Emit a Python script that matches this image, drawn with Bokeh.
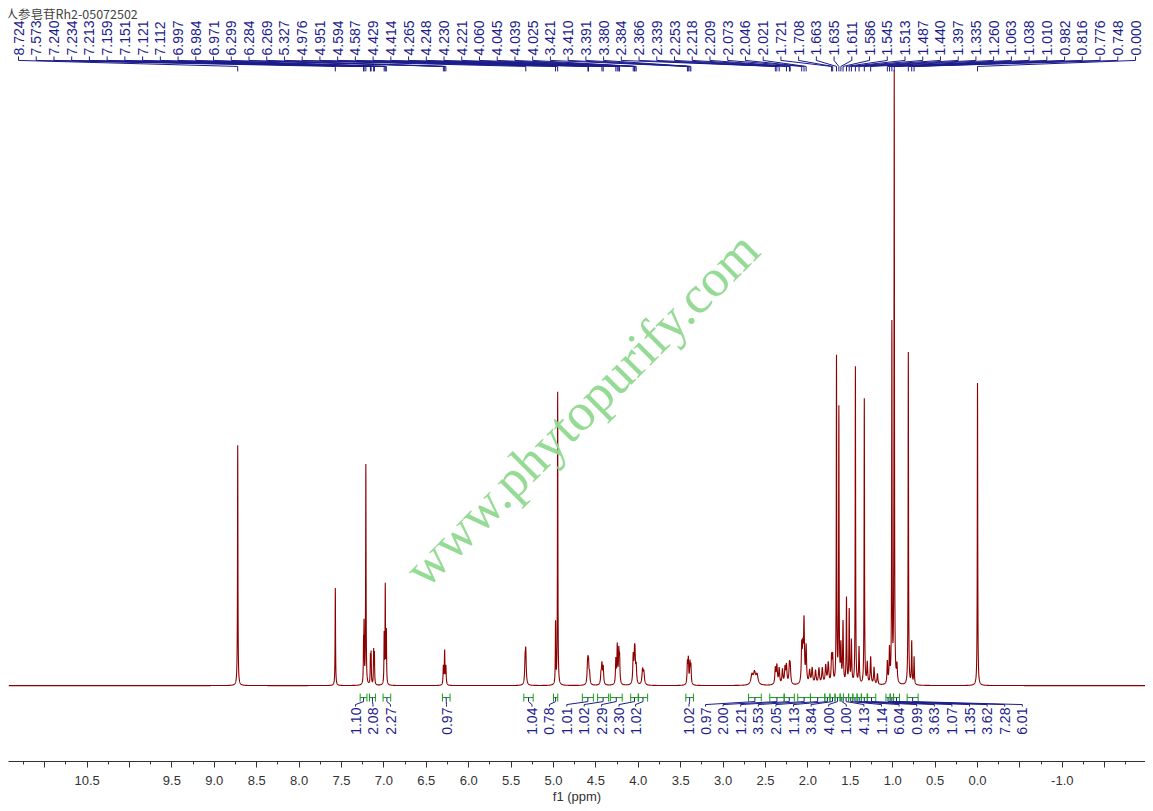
import numpy as np
from bokeh.plotting import figure
from bokeh.models import Range1d, FixedTicker, CustomJSTickFormatter
from bokeh.embed import file_html
from bokeh.resources import INLINE
from bokeh.core.properties import value

# ---------------- data ----------------
peak_ppm = [8.724, 7.573, 7.240, 7.234, 7.213, 7.159, 7.151, 7.121, 7.112,
            6.997, 6.984, 6.971, 6.299, 6.284, 6.269, 5.335, 5.327,
            4.976, 4.951, 4.600, 4.594, 4.587, 4.575, 4.440, 4.429, 4.414,
            4.265, 4.248, 4.230, 4.221, 4.060, 4.045, 4.039, 4.025, 3.950, 3.935,
            3.421, 3.410, 3.391, 3.380,
            2.660, 2.630, 2.600,
            2.384, 2.366, 2.339, 2.300, 2.270, 2.253, 2.218, 2.209,
            2.073, 2.060, 2.046, 2.021,
            1.980, 1.950, 1.910, 1.870, 1.830, 1.790, 1.760, 1.721, 1.708,
            1.663, 1.635, 1.611, 1.586, 1.545, 1.513, 1.487, 1.440, 1.397, 1.335,
            1.300, 1.260, 1.220, 1.180, 1.063, 1.038, 1.010, 0.982, 0.950,
            0.816, 0.776, 0.748, 0.000]
peak_int = [0.394, 0.160, 0.060, 0.090, 0.360, 0.045, 0.050, 0.055, 0.050,
            0.080, 0.160, 0.085, 0.030, 0.055, 0.030, 0.035, 0.050,
            0.100, 0.480, 0.020, 0.026, 0.028, 0.016, 0.016, 0.032, 0.028,
            0.040, 0.062, 0.050, 0.040, 0.045, 0.040, 0.036, 0.028, 0.024, 0.020,
            0.034, 0.040, 0.034, 0.030,
            0.016, 0.019, 0.016,
            0.026, 0.030, 0.026, 0.024, 0.026, 0.030, 0.028, 0.026,
            0.060, 0.050, 0.100, 0.060,
            0.022, 0.026, 0.022, 0.026, 0.026, 0.030, 0.034, 0.042, 0.042,
            0.534, 0.448, 0.060, 0.100, 0.140, 0.120, 0.070, 0.520, 0.060, 0.468,
            0.035, 0.045, 0.028, 0.018, 0.036, 0.055, 0.585, 1.000, 0.028,
            0.545, 0.070, 0.045, 0.496]
peak_hw = [0.003, 0.003, 0.003, 0.003, 0.003, 0.003, 0.003, 0.003, 0.003,
           0.003, 0.003, 0.003, 0.004, 0.004, 0.004, 0.006, 0.006,
           0.003, 0.003, 0.006, 0.006, 0.006, 0.006, 0.006, 0.006, 0.006,
           0.005, 0.005, 0.005, 0.005, 0.006, 0.006, 0.006, 0.006, 0.008, 0.008,
           0.005, 0.005, 0.005, 0.005,
           0.014, 0.014, 0.014,
           0.007, 0.007, 0.007, 0.007, 0.007, 0.007, 0.007, 0.007,
           0.006, 0.006, 0.006, 0.006,
           0.008, 0.008, 0.008, 0.008, 0.008, 0.008, 0.008, 0.006, 0.006,
           0.003, 0.003, 0.005, 0.005, 0.004, 0.004, 0.005, 0.003, 0.005, 0.003,
           0.006, 0.006, 0.006, 0.006, 0.005, 0.005, 0.003, 0.003, 0.006,
           0.003, 0.004, 0.004, 0.003]

shift_labels = ["8.724", "7.573", "7.240", "7.234", "7.213", "7.159", "7.151", "7.121",
                "7.112", "6.997", "6.984", "6.971", "6.299", "6.284", "6.269", "5.327",
                "4.976", "4.951", "4.594", "4.587", "4.429", "4.414", "4.265", "4.248",
                "4.230", "4.221", "4.060", "4.045", "4.039", "4.025", "3.421", "3.410",
                "3.391", "3.380", "2.384", "2.366", "2.339", "2.253", "2.218", "2.209",
                "2.073", "2.046", "2.021", "1.721", "1.708", "1.663", "1.635", "1.611",
                "1.586", "1.545", "1.513", "1.487", "1.440", "1.397", "1.335", "1.260",
                "1.063", "1.038", "1.010", "0.982", "0.816", "0.776", "0.748", "0.000"]

integ_values = ["1.10", "2.08", "2.27", "0.97", "1.04", "0.78", "1.01", "1.02", "2.29",
                "2.30", "1.02", "1.02",
                "0.97", "2.00", "1.21", "3.53", "2.05", "1.13", "3.84", "4.00", "1.00",
                "4.13", "1.14", "6.04", "0.99", "3.63", "1.07", "1.35", "3.62", "7.28", "6.01"]
integ_from = [7.28, 7.17, 7.01, 6.31, 5.35, 5.00, 4.66, 4.48, 4.33, 4.09, 4.00, 3.44,
              2.70, 2.45, 2.28, 2.12, 1.97, 1.80, 1.74, 1.68, 1.62, 1.58, 1.52, 1.47,
              1.42, 1.37, 1.30, 1.08, 1.03, 0.99, 0.83]
integ_to = [7.20, 7.10, 6.92, 6.22, 5.24, 4.95, 4.53, 4.35, 4.19, 4.00, 3.89, 3.35,
            2.55, 2.28, 2.16, 1.97, 1.80, 1.74, 1.68, 1.62, 1.58, 1.52, 1.47, 1.42,
            1.37, 1.30, 1.20, 1.03, 0.99, 0.92, 0.70]

major_ticks = [11.0, 10.5, 10.0, 9.5, 9.0, 8.5, 8.0, 7.5, 7.0, 6.5, 6.0, 5.5, 5.0, 4.5,
               4.0, 3.5, 3.0, 2.5, 2.0, 1.5, 1.0, 0.5, 0.0, -0.5, -1.0, -1.5]
minor_ticks = [11.25, 10.75, 10.25, 9.75, 9.25, 8.75, 8.25, 7.75, 7.25, 6.75, 6.25, 5.75,
               5.25, 4.75, 4.25, 3.75, 3.25, 2.75, 2.25, 1.75, 1.25, 0.75, 0.25, -0.25,
               -0.75, -1.25, -1.75]
unlabelled_ticks = [11.0, 10.0, -0.5, -1.5]

title_text = "人参皂苷Rh2-05072502"
watermark = "www.phytopurify.com"

# ---------------- geometry helpers (page pixels -> data) ----------------
X_LEFT, X_RIGHT = 11.427, -1.981
FRAME_W = 1137
PPU = FRAME_W / (X_LEFT - X_RIGHT)
BASE_Y, UNIT = 686.0, 611.0
FRAME_TOP, FRAME_BOT = 8, 762


def px(page_x):
    return X_LEFT - (page_x - 8) / PPU


def py(page_y):
    return (BASE_Y - page_y) / UNIT


NAVY = "#1c1c8a"
RED = "#8b0000"
GREEN = "#1a9a1a"
LABEL_FONT = value("Liberation Sans")

p = figure(width=FRAME_W + 8, height=806,
           x_range=Range1d(X_LEFT, X_RIGHT),
           y_range=Range1d(py(FRAME_BOT), py(FRAME_TOP)),
           output_backend="svg", toolbar_location=None, y_axis_location=None,
           min_border_left=8, min_border_right=0, min_border_top=8, min_border_bottom=40)
p.grid.visible = False
p.outline_line_color = None
p.background_fill_color = "white"

# ---------------- spectrum ----------------
grid = np.arange(X_RIGHT, X_LEFT, 0.001)
pp = np.array(peak_ppm)
xs = np.sort(np.concatenate([grid, pp, pp - 0.0008, pp + 0.0008]))
ys = np.zeros_like(xs)
for c, h, w in zip(peak_ppm, peak_int, peak_hw):
    ys += h * w * w / ((xs - c) ** 2 + w * w)
p.line(xs, ys, line_color=RED, line_width=1.1)

# ---------------- watermark ----------------
p.text(x=[px(581)], y=[py(409)], text=[watermark], angle=np.deg2rad(45),
       text_align="center", text_baseline="middle",
       text_font=value("Liberation Serif"), text_font_size="53px",
       text_color="#8fd98f", text_alpha=0.95)

# ---------------- peak labels on top ----------------
n = len(shift_labels)
lab_x = [px(18 + i * (1135 - 18) / (n - 1)) for i in range(n)]
peak_x = [float(s) for s in shift_labels]
p.text(x=lab_x, y=[py(55)] * n, text=shift_labels, angle=np.pi / 2,
       text_align="left", text_baseline="middle",
       text_font=LABEL_FONT, text_font_size="14px", text_color=NAVY)
xs_m, ys_m = [], []
for lx, pk in zip(lab_x, peak_x):
    xs_m.append([lx, lx, pk, pk])
    ys_m.append([py(56), py(60), py(66), py(71)])
p.multi_line(xs_m, ys_m, line_color=NAVY, line_width=1)

# ---------------- integrals ----------------
m = len(integ_values)
int_lab_page = [355 + i * 17.5 for i in range(3)] + [446] + [531.5 + i * 17.4 for i in range(6)] + [635, 688.5] \
    + [705 + i * 17.6 for i in range(19)]
int_lab_x = [px(v) for v in int_lab_page]
centers = [(a + b) / 2 for a, b in zip(integ_from, integ_to)]
p.segment(x0=integ_from, y0=[py(698)] * m, x1=integ_to, y1=[py(698)] * m, line_color=GREEN, line_width=1)
p.segment(x0=integ_from, y0=[py(694)] * m, x1=integ_from, y1=[py(702)] * m, line_color=GREEN, line_width=1)
p.segment(x0=integ_to, y0=[py(694)] * m, x1=integ_to, y1=[py(702)] * m, line_color=GREEN, line_width=1)
cx, cy = [], []
for lx, c in zip(int_lab_x, centers):
    cx.append([c, c, lx, lx])
    cy.append([py(698), py(702), py(705), py(707)])
p.multi_line(cx, cy, line_color=NAVY, line_width=1)
p.text(x=int_lab_x, y=[py(708)] * m, text=integ_values, angle=np.pi / 2,
       text_align="right", text_baseline="middle",
       text_font=LABEL_FONT, text_font_size="14px", text_color=NAVY)

# ---------------- title ----------------
p.text(x=[px(5)], y=[py(13)], text=[title_text], text_align="left", text_baseline="middle",
       text_font=value("Noto Sans CJK SC"), text_font_size="12.5px", text_color="#444444")

# ---------------- axis ----------------
ax = p.xaxis[0]
ax.ticker = FixedTicker(ticks=major_ticks, minor_ticks=minor_ticks)
ax.formatter = CustomJSTickFormatter(args=dict(skip=unlabelled_ticks), code="""
    for (const s of skip) { if (Math.abs(s - tick) < 1e-6) return ""; }
    return tick.toFixed(1);
""")
ax.axis_line_color = "#333333"
ax.major_tick_line_color = "#333333"
ax.minor_tick_line_color = "#333333"
ax.major_tick_in = 0
ax.major_tick_out = 6
ax.minor_tick_in = 0
ax.minor_tick_out = 3
ax.major_label_standoff = 8
ax.major_label_text_font = "Liberation Sans"
ax.major_label_text_font_size = "13px"
ax.major_label_text_color = "#333333"
ax.axis_label = "f1 (ppm)"
ax.axis_label_text_font = "Liberation Sans"
ax.axis_label_text_font_style = "normal"
ax.axis_label_text_font_size = "13px"
ax.axis_label_text_color = "#333333"
ax.axis_label_standoff = 1

open("out.html", "w").write(file_html(p, INLINE))
